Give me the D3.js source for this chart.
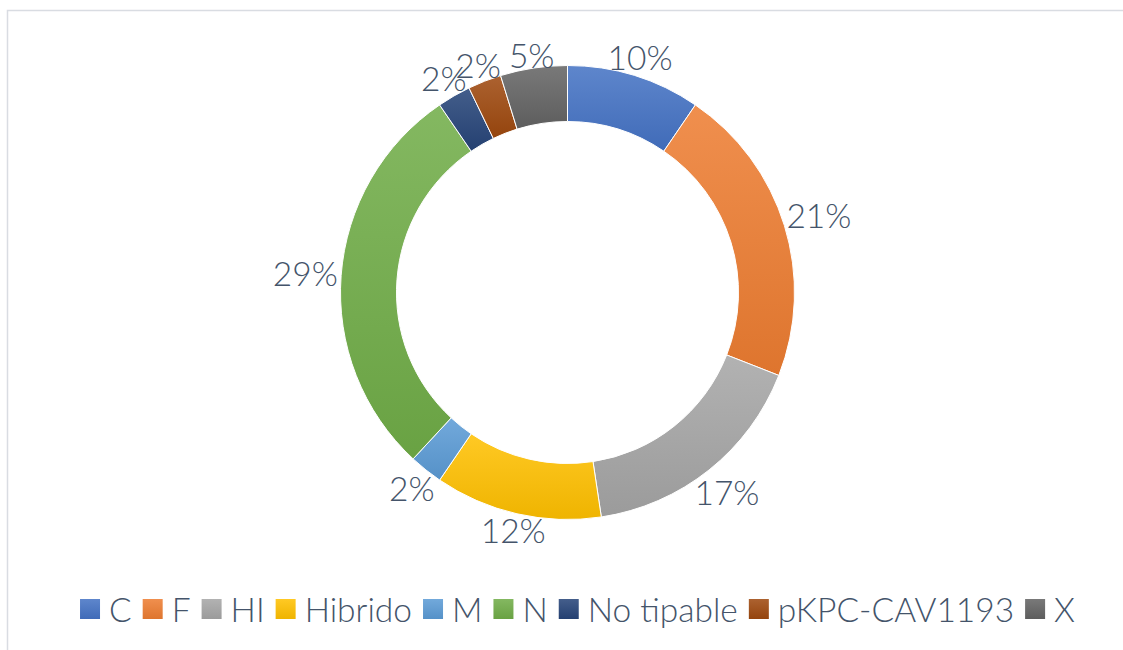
<!DOCTYPE html>
<html>
<head>
<meta charset="utf-8">
<script src="https://cdn.jsdelivr.net/npm/d3@7"></script>
<style>
  html, body { margin: 0; padding: 0; background: #fff; }
  svg { display: block; }
</style>
</head>
<body>
<svg id="chart" width="1123" height="650"></svg>
<script>
// Share of each category (counts)
const categories = ["C", "F", "HI", "Hibrido", "M", "N", "No tipable", "pKPC-CAV1193", "X"];
const counts     = [4, 9, 7, 5, 1, 12, 1, 1, 2];
const colors     = ["#4472C4", "#ED7D31", "#A5A5A5", "#FFC000", "#5B9BD5", "#70AD47", "#264478", "#9E480E", "#636363"];

const W = 1123, H = 650;
const cx = 567.5, cy = 292.5;
const outerR = 227, innerR = 171;
const fontFam = "Lato, 'Open Sans', sans-serif";
const fontWeight = 300;
const textColor = "#44546A";
const fontSize = 33.5;

const svg = d3.select("#chart");

// outer frame
svg.append("rect")
  .attr("x", 7.5).attr("y", 10.5)
  .attr("width", W + 10).attr("height", H + 10)
  .attr("fill", "#fff")
  .attr("stroke", "#D9DCE2").attr("stroke-width", 1.5);

// vertical gradients, lighter at top
const defs = svg.append("defs");
colors.forEach((c, i) => {
  const g = defs.append("linearGradient")
    .attr("id", "grad" + i)
    .attr("x1", 0).attr("y1", 0).attr("x2", 0).attr("y2", 1);
  g.append("stop").attr("offset", "0%").attr("stop-color", d3.interpolateRgb(c, "#ffffff")(0.14));
  g.append("stop").attr("offset", "100%").attr("stop-color", d3.color(c).darker(0.18).formatHex());
});

const total = d3.sum(counts);
const data = categories.map((k, i) => ({ key: k, value: counts[i], i }));

const pie = d3.pie().value(d => d.value).sort(null);
const arcs = pie(data);
const arc = d3.arc().innerRadius(innerR).outerRadius(outerR);

const g = svg.append("g").attr("transform", `translate(${cx},${cy})`);

g.selectAll("path.slice")
  .data(arcs)
  .join("path")
  .attr("class", "slice")
  .attr("d", arc)
  .attr("fill", d => `url(#grad${d.data.i})`)
  .attr("stroke", "#fff")
  .attr("stroke-width", 1);

// percentage labels placed just outside the ring along each slice's mid-angle
const fmt = d => Math.round(d.value / total * 100) + "%";
const labels = g.selectAll("text.lbl")
  .data(arcs)
  .join("text")
  .attr("class", "lbl")
  .attr("font-family", fontFam)
  .attr("font-weight", fontWeight)
  .attr("font-size", fontSize)
  .attr("fill", textColor)
  .attr("text-anchor", "middle")
  .attr("dominant-baseline", "central")
  .text(d => fmt(d.data));

labels.each(function(d) {
  const bb = this.getBBox();
  const a = (d.startAngle + d.endAngle) / 2;
  const s = Math.sin(a), c = Math.cos(a);
  const hw = bb.width / 2, hh = 7;
  const r = outerR + 3 + Math.abs(s) * hw + Math.abs(c) * hh;
  d3.select(this).attr("x", r * s).attr("y", -r * c);
});

// legend
const legend = svg.append("g");
const sq = 20, gapSq = 9, gapItem = 11;
let x = 0;
const items = legend.selectAll("g.item").data(data).join("g").attr("class", "item");
items.append("rect")
  .attr("width", sq).attr("height", sq)
  .attr("y", -sq / 2)
  .attr("fill", d => `url(#grad${d.i})`);
items.append("text")
  .attr("x", sq + gapSq)
  .attr("font-family", fontFam)
  .attr("font-weight", fontWeight)
  .attr("font-size", fontSize)
  .attr("fill", textColor)
  .attr("dominant-baseline", "central")
  .text(d => d.key);
items.each(function() {
  const t = d3.select(this).select("text").node().getComputedTextLength();
  d3.select(this).attr("transform", `translate(${x},0)`);
  x += sq + gapSq + t + gapItem;
});
const legendW = x - gapItem;
legend.attr("transform", `translate(${577.5 - legendW / 2},${609})`);
</script>
</body>
</html>
